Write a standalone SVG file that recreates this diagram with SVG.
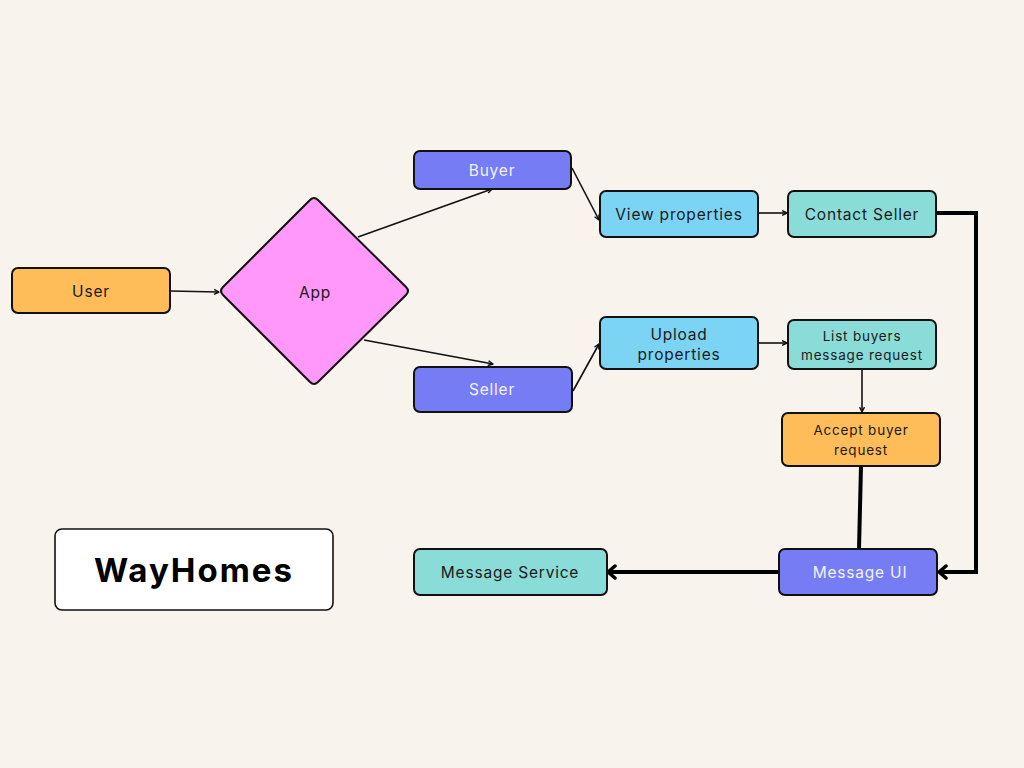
<svg xmlns="http://www.w3.org/2000/svg" width="1024" height="768" viewBox="0 0 1024 768">
<style>
.n{stroke:#111;stroke-width:2}
.t{font-family:Inter,"Liberation Sans",sans-serif;font-size:15.5px;letter-spacing:0.8px;fill:#1a1a1a;text-anchor:middle;dominant-baseline:central}
.s{font-size:13.5px}
.w{fill:#f2f2ff}
.c{fill:none;stroke:#111;stroke-width:1.6}
.k{fill:none;stroke:#000;stroke-width:4}
</style>
<defs>
<marker id="a" viewBox="0 0 10 10" refX="9" refY="5" markerWidth="7" markerHeight="7" orient="auto" markerUnits="userSpaceOnUse"><path d="M2,1.5 L9,5 L2,8.5" fill="none" stroke="#111" stroke-width="2" stroke-linejoin="round"/></marker>
<marker id="b" viewBox="0 0 12 16" refX="10" refY="8" markerWidth="12" markerHeight="16" orient="auto" markerUnits="userSpaceOnUse"><path d="M3,2 L10,8 L3,14" fill="none" stroke="#000" stroke-width="3.5" stroke-linecap="round" stroke-linejoin="round"/></marker>
</defs>
<rect width="1024" height="768" fill="#f8f3ec"/>
<g id="connectors">
<line class="c" x1="170" y1="291" x2="219" y2="292" marker-end="url(#a)"/>
<line class="c" x1="358" y1="237" x2="492" y2="189" marker-end="url(#a)"/>
<line class="c" x1="364" y1="340" x2="493" y2="364" marker-end="url(#a)"/>
<line class="c" x1="572" y1="168" x2="599" y2="220" marker-end="url(#a)"/>
<line class="c" x1="573" y1="391" x2="599" y2="344" marker-end="url(#a)"/>
<line class="c" x1="758" y1="213" x2="787" y2="213" marker-end="url(#a)"/>
<line class="c" x1="758" y1="343" x2="787" y2="343" marker-end="url(#a)"/>
<line class="c" x1="862" y1="369" x2="862" y2="412" marker-end="url(#a)"/>
<path class="k" d="M936,213 H976 V572 H939" marker-end="url(#b)"/>
<line class="k" x1="861" y1="466" x2="859" y2="549"/>
<line class="k" x1="779" y1="572" x2="608" y2="572" marker-end="url(#b)"/>
</g>
<g id="user"><rect class="n" x="12" y="268" width="158" height="45" rx="6" fill="#ffbd59"/><text class="t" x="91" y="291">User</text></g>
<g id="app"><path class="n" d="M310,200 Q314,196 318,200 L406,287 Q410,291 406,295 L318,382 Q314,386 310,382 L223,295 Q219,291 223,287 Z" fill="#ff98f8"/><text class="t" x="315" y="292">App</text></g>
<g id="buyer"><rect class="n" x="414" y="151" width="157" height="38" rx="6" fill="#767cf4"/><text class="t w" x="492" y="170">Buyer</text></g>
<g id="seller"><rect class="n" x="414" y="367" width="158" height="45" rx="6" fill="#767cf4"/><text class="t w" x="492" y="389">Seller</text></g>
<g id="view"><rect class="n" x="600" y="191" width="158" height="46" rx="6" fill="#7cd4f5"/><text class="t" x="679" y="214">View properties</text></g>
<g id="contact"><rect class="n" x="788" y="191" width="148" height="46" rx="6" fill="#8adcd8"/><text class="t" x="862" y="214">Contact Seller</text></g>
<g id="upload"><rect class="n" x="600" y="317" width="158" height="52" rx="6" fill="#7cd4f5"/><text class="t" x="679" y="334">Upload</text><text class="t" x="679" y="354">properties</text></g>
<g id="list"><rect class="n" x="788" y="320" width="148" height="49" rx="6" fill="#8adcd8"/><text class="t s" x="862" y="336">List buyers</text><text class="t s" x="862" y="355">message request</text></g>
<g id="accept"><rect class="n" x="782" y="413" width="158" height="53" rx="6" fill="#ffbd59"/><text class="t s" x="861" y="430">Accept buyer</text><text class="t s" x="861" y="450">request</text></g>
<g id="messageui"><rect class="n" x="779" y="549" width="158" height="46" rx="6" fill="#767cf4"/><text class="t w" x="860" y="572">Message UI</text></g>
<g id="messageservice"><rect class="n" x="414" y="549" width="193" height="46" rx="6" fill="#8adcd8"/><text class="t" x="510" y="572">Message Service</text></g>
<g id="wayhomes"><rect x="55" y="529" width="278" height="81" rx="7" fill="#fff" stroke="#111" stroke-width="1.6"/><text x="194" y="570" font-family="Inter,'Liberation Sans',sans-serif" font-size="33" font-weight="700" letter-spacing="2" text-anchor="middle" dominant-baseline="central" fill="#000">WayHomes</text></g>
</svg>
